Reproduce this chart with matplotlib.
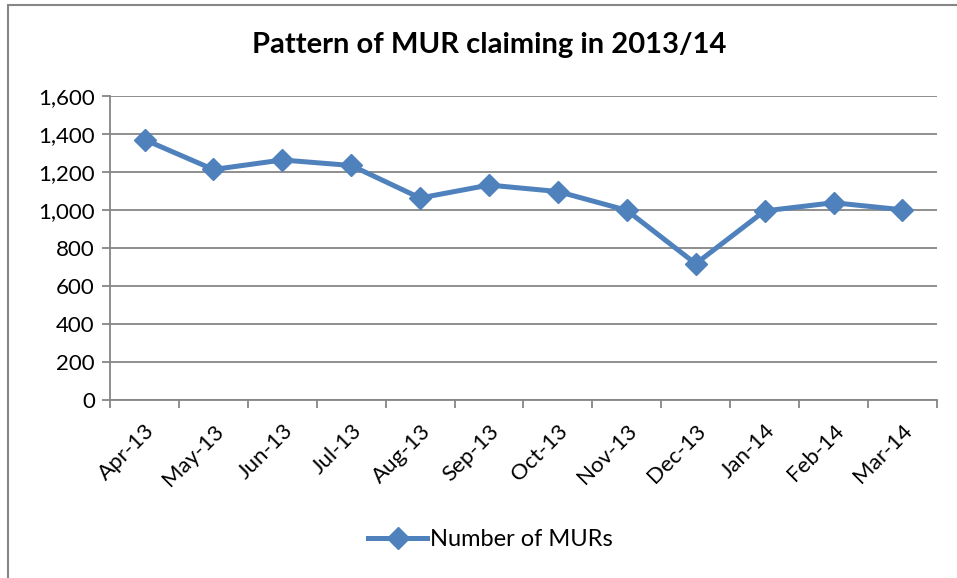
import numpy as np
import matplotlib.pyplot as plt
from matplotlib.patches import Rectangle

months = ['Apr-13', 'May-13', 'Jun-13', 'Jul-13', 'Aug-13', 'Sep-13',
          'Oct-13', 'Nov-13', 'Dec-13', 'Jan-14', 'Feb-14', 'Mar-14']
murs = [1370, 1213, 1263, 1234, 1063, 1131, 1097, 998, 717, 995, 1038, 1001]

plt.rcParams['font.family'] = ['Lato', 'DejaVu Sans']

fig = plt.figure(figsize=(9.57, 5.78), dpi=100)
ax = fig.add_axes([0.115, 0.308, 0.864, 0.526])

# outer chart border
fig.patches.append(Rectangle((8 / 957, -0.01), 1.1, 1 - 5 / 578 + 0.01,
                             transform=fig.transFigure, fill=False,
                             edgecolor='#868686', linewidth=1.5))

x = np.arange(len(months))
blue = '#4F81BD'
ax.plot(x, murs, color=blue, linewidth=3.6, marker='D', markersize=11.5,
        label='Number of MURs')

ax.set_xlim(-0.5, len(months) - 0.5)
ax.set_ylim(0, 1600)
ax.set_yticks(range(0, 1601, 200))
ax.set_yticklabels([f'{v:,}' for v in range(0, 1601, 200)], fontsize=16)
ax.yaxis.grid(True, color='#868686', linewidth=1.3)
ax.set_axisbelow(True)

ax.set_xticks(x)
ax.set_xticklabels(months, rotation=45, ha='right', rotation_mode='anchor',
                   fontsize=16)
ax.tick_params(axis='x', which='major', length=0, pad=15)
ax.set_xticks(np.arange(-0.5, len(months)), minor=True)
ax.tick_params(axis='x', which='minor', length=6, color='#868686', width=1.3)
ax.tick_params(axis='y', length=6, color='#868686', width=1.3, pad=5)

for s in ['top', 'right']:
    ax.spines[s].set_visible(False)
for s in ['left', 'bottom']:
    ax.spines[s].set_color('#868686')
    ax.spines[s].set_linewidth(1.3)

fig.suptitle('Pattern of MUR claiming in 2013/14', x=0.511, y=0.922,
             va='center', fontsize=21, fontweight='bold')

ax.legend(loc='center', bbox_to_anchor=(0.46, (400 - 540) / 304),
          frameon=False, fontsize=17, handlelength=2.5, handletextpad=0.1)

fig.savefig('out.png', dpi=100)
